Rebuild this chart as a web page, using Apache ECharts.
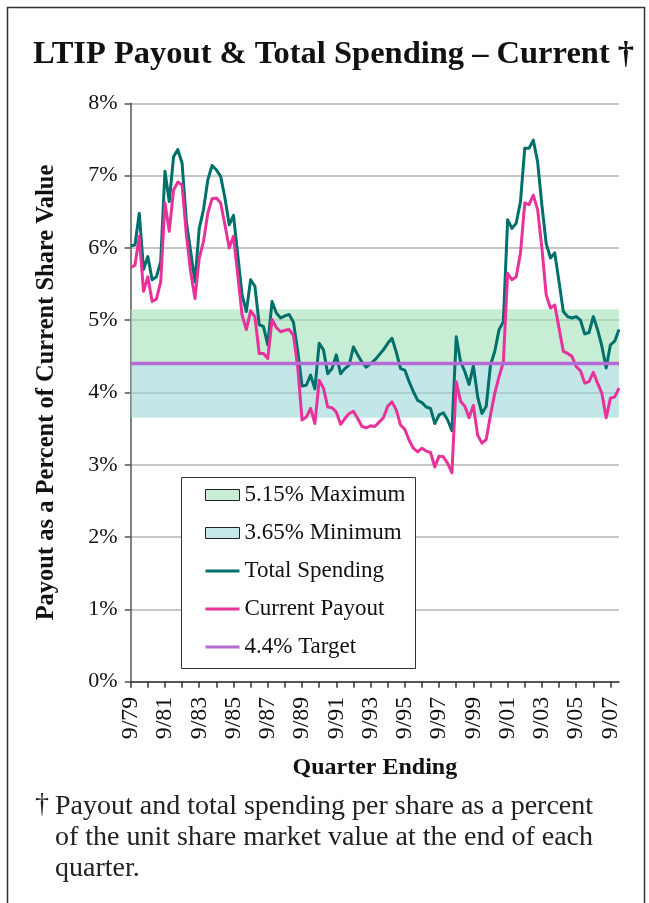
<!DOCTYPE html>
<html>
<head>
<meta charset="utf-8">
<script src="https://cdn.jsdelivr.net/npm/echarts@6/dist/echarts.min.js"></script>
<style>
  html, body { margin: 0; padding: 0; background: #fff; }
  #chart { width: 649px; height: 903px; }
</style>
</head>
<body>
<div id="chart"></div>
<script>
// Quarter-ending labels, 9/79 through 3/08
const quarterMonths = [9, 12, 3, 6];
const quarters = [];
for (let i = 0; i < 115; i++) {
  const yy = (79 + Math.floor((i + 2) / 4)) % 100;
  quarters.push(quarterMonths[i % 4] + '/' + String(yy).padStart(2, '0'));
}

// Total spending per share, % of share value
const totalSpending = [
  6.03, 6.04, 6.48, 5.70, 5.88, 5.56, 5.60, 5.81, 7.06, 6.64,
  7.26, 7.36, 7.17, 6.36, 5.95, 5.53, 6.27, 6.53, 6.94, 7.14,
  7.08, 6.99, 6.69, 6.32, 6.45, 5.90, 5.35, 5.12, 5.56, 5.47,
  4.94, 4.91, 4.66, 5.26, 5.10, 5.03, 5.06, 5.08, 4.97, 4.57,
  4.09, 4.10, 4.24, 4.05, 4.68, 4.59, 4.26, 4.33, 4.52, 4.26,
  4.33, 4.38, 4.63, 4.52, 4.42, 4.35, 4.40, 4.45, 4.52, 4.59,
  4.68, 4.75, 4.56, 4.33, 4.31, 4.15, 4.01, 3.89, 3.86, 3.80,
  3.78, 3.57, 3.69, 3.72, 3.62, 3.47, 4.77, 4.43, 4.29, 4.11,
  4.37, 3.94, 3.71, 3.81, 4.38, 4.57, 4.87, 4.98, 6.39, 6.27,
  6.34, 6.64, 7.38, 7.38, 7.49, 7.19, 6.59, 6.06, 5.86, 5.93,
  5.53, 5.12, 5.05, 5.03, 5.05, 5.00, 4.81, 4.83, 5.05, 4.87,
  4.64, 4.34, 4.66, 4.71, 4.87
];

// Current payout per share, % of share value
const currentPayout = [
  5.73, 5.76, 6.16, 5.40, 5.60, 5.26, 5.29, 5.53, 6.62, 6.23,
  6.80, 6.91, 6.87, 6.18, 5.67, 5.30, 5.86, 6.09, 6.48, 6.68,
  6.69, 6.62, 6.32, 6.00, 6.16, 5.62, 5.07, 4.87, 5.13, 5.05,
  4.54, 4.54, 4.47, 5.01, 4.90, 4.84, 4.86, 4.87, 4.79, 4.35,
  3.62, 3.66, 3.78, 3.57, 4.17, 4.06, 3.80, 3.79, 3.73, 3.56,
  3.64, 3.71, 3.74, 3.64, 3.53, 3.51, 3.54, 3.53, 3.59, 3.65,
  3.81, 3.87, 3.76, 3.55, 3.49, 3.34, 3.23, 3.18, 3.23, 3.19,
  3.17, 2.97, 3.12, 3.11, 3.02, 2.89, 4.15, 3.88, 3.81, 3.65,
  3.82, 3.41, 3.30, 3.35, 3.69, 3.99, 4.22, 4.42, 5.65, 5.56,
  5.60, 5.93, 6.62, 6.60, 6.73, 6.53, 6.00, 5.35, 5.17, 5.21,
  4.89, 4.57, 4.54, 4.50, 4.36, 4.30, 4.13, 4.15, 4.28, 4.13,
  3.99, 3.65, 3.92, 3.94, 4.06
];

// Policy levels
const maxLevel = 5.15;
const minLevel = 3.65;
const targetLevel = 4.4;

const yTicks = [0, 1, 2, 3, 4, 5, 6, 7, 8];

const SERIF = '"Liberation Serif", "DejaVu Serif", serif';
const C_TOTAL = '#00706c';
const C_PAYOUT = '#e8319b';
const C_TARGET = '#b66ad6';
const C_MAX = 'rgba(160,224,182,0.58)';
const C_MIN = 'rgba(150,214,212,0.58)';
const LINE_ICON = 'path://M0,0L34,0L34,3L0,3Z';

const chart = echarts.init(document.getElementById('chart'), null, { renderer: 'canvas' });

chart.setOption({
  animation: false,
  backgroundColor: '#ffffff',
  title: {
    text: 'LTIP Payout & Total Spending \u2013 Current \u2020',
    left: 33,
    top: 38,
    padding: 0,
    textStyle: { fontFamily: SERIF, fontWeight: 'bold', fontSize: 32.5, color: '#111' }
  },
  grid: { left: 130.7, right: 30, top: 103.3, bottom: 221.3, containLabel: false },
  xAxis: {
    type: 'category',
    data: quarters,
    boundaryGap: false,
    name: 'Quarter Ending',
    nameLocation: 'middle',
    nameGap: 74,
    nameTextStyle: { fontFamily: SERIF, fontWeight: 'bold', fontSize: 24, color: '#111' },
    axisLine: { lineStyle: { color: '#333', width: 1.5 } },
    axisTick: { interval: 3, length: 6, lineStyle: { color: '#333', width: 1.5 } },
    axisLabel: {
      interval: 7, rotate: 90, margin: 15,
      fontFamily: SERIF, fontSize: 24, color: '#111'
    },
    splitLine: { show: false }
  },
  yAxis: {
    type: 'value',
    min: yTicks[0],
    max: yTicks[yTicks.length - 1],
    interval: 1,
    name: 'Payout as a Percent of Current Share Value',
    nameLocation: 'middle',
    nameRotate: 90,
    nameGap: 72,
    nameTextStyle: { fontFamily: SERIF, fontWeight: 'bold', fontSize: 24.5, color: '#111' },
    axisLine: { show: true, lineStyle: { color: '#555', width: 1.5 } },
    axisTick: { show: true, length: 6, lineStyle: { color: '#555', width: 1.5 } },
    axisLabel: {
      margin: 13, fontFamily: SERIF, fontSize: 22, color: '#111',
      formatter: v => v + '%'
    },
    splitLine: { show: true, lineStyle: { color: '#b4b4b4', width: 1.5 } }
  },
  legend: {
    orient: 'vertical',
    left: 205,
    top: 483.5,
    padding: 0,
    itemWidth: 34,
    itemHeight: 11,
    itemGap: 15,
    z: 10,
    textStyle: { fontFamily: SERIF, fontSize: 23, color: '#111', lineHeight: 23 },
    data: [
      { name: '5.15% Maximum', icon: 'rect', itemStyle: { color: '#c8ecd4', borderColor: '#222', borderWidth: 1 } },
      { name: '3.65% Minimum', icon: 'rect', itemStyle: { color: '#c3e8e8', borderColor: '#222', borderWidth: 1 } },
      { name: 'Total Spending', icon: LINE_ICON, itemStyle: { color: C_TOTAL, borderWidth: 0 } },
      { name: 'Current Payout', icon: LINE_ICON, itemStyle: { color: C_PAYOUT, borderWidth: 0 } },
      { name: '4.4% Target', icon: LINE_ICON, itemStyle: { color: C_TARGET, borderWidth: 0 } }
    ]
  },
  graphic: [
    {
      type: 'rect', z: 9,
      shape: { x: 181.5, y: 477.5, width: 234, height: 191 },
      style: { fill: '#fff', stroke: '#333', lineWidth: 1 }
    },
    {
      type: 'rect', z: 20, silent: true,
      shape: { x: 7.5, y: 7.5, width: 637, height: 1000 },
      style: { fill: 'none', stroke: '#333', lineWidth: 1.5 }
    },
    {
      type: 'text', left: 35, top: 791,
      style: { text: '\u2020', font: '28px ' + SERIF, fill: '#222' }
    },
    {
      type: 'text', left: 55, top: 791,
      style: {
        text: 'Payout and total spending per share as a percent\nof the unit share market value at the end of each\nquarter.',
        font: '28px ' + SERIF, fill: '#222', lineHeight: 31
      }
    }
  ],
  series: [
    {
      name: '5.15% Maximum', type: 'line', data: [], z: 1,
      itemStyle: { color: '#c8ecd4' },
      markArea: {
        silent: true,
        itemStyle: { color: C_MAX },
        data: [[{ yAxis: targetLevel }, { yAxis: maxLevel }]]
      }
    },
    {
      name: '3.65% Minimum', type: 'line', data: [], z: 1,
      itemStyle: { color: '#c3e8e8' },
      markArea: {
        silent: true,
        itemStyle: { color: C_MIN },
        data: [[{ yAxis: minLevel }, { yAxis: targetLevel }]]
      }
    },
    {
      name: '4.4% Target', type: 'line', data: [], z: 2,
      symbol: 'none',
      itemStyle: { color: C_TARGET },
      lineStyle: { color: C_TARGET, width: 3.3 },
      markLine: {
        silent: true, symbol: 'none',
        label: { show: false },
        lineStyle: { color: C_TARGET, width: 3.3, type: 'solid' },
        data: [{ yAxis: targetLevel }]
      }
    },
    {
      name: 'Total Spending', type: 'line', data: totalSpending, z: 3,
      symbol: 'none', showSymbol: false,
      itemStyle: { color: C_TOTAL },
      lineStyle: { color: C_TOTAL, width: 3, join: 'round' }
    },
    {
      name: 'Current Payout', type: 'line', data: currentPayout, z: 3,
      symbol: 'none', showSymbol: false,
      itemStyle: { color: C_PAYOUT },
      lineStyle: { color: C_PAYOUT, width: 3, join: 'round' }
    }
  ]
});
</script>
</body>
</html>
